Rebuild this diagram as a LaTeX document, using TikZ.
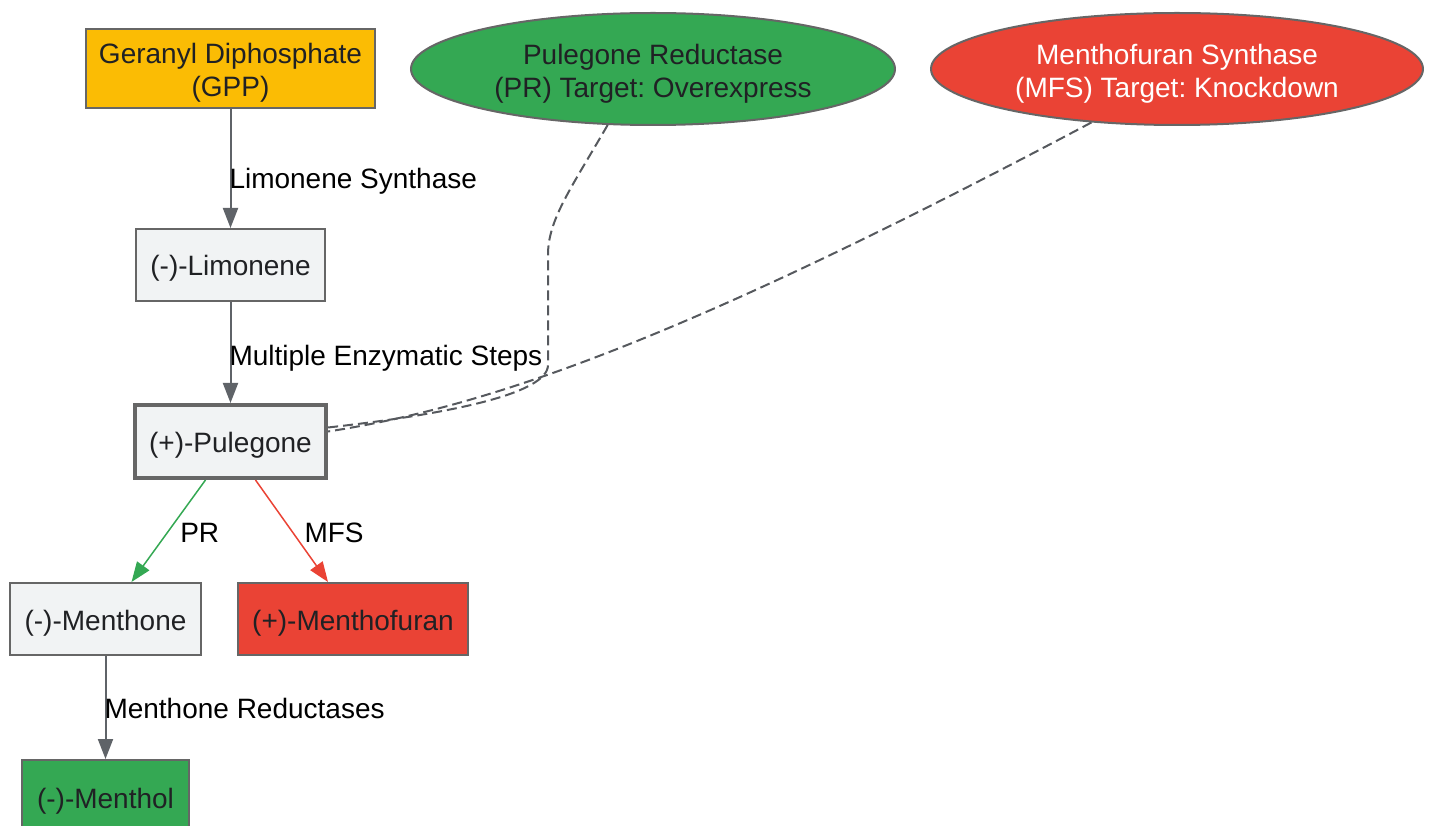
\documentclass[tikz,border=0pt]{standalone}
\usepackage{fontspec}
\setmainfont{Liberation Sans}
\usetikzlibrary{shapes.geometric, arrows.meta}
\frenchspacing
\definecolor{ink}{HTML}{202124}
\definecolor{edgegrey}{HTML}{5F6368}
\definecolor{rim}{HTML}{666666}
\definecolor{paper}{HTML}{F1F3F4}
\definecolor{gold}{HTML}{FBBC04}
\definecolor{leaf}{HTML}{34A853}
\definecolor{flame}{HTML}{EA4335}
\begin{document}
\begin{tikzpicture}[x=1pt, y=-1pt, font=\fontsize{28}{33}\selectfont,
		n/.style={rectangle, draw=rim, line width=2pt, fill=paper, text=ink, inner sep=0pt, minimum height=72pt, align=center, text height=28pt, text depth=6pt},
		t/.style={ellipse, draw=rim, line width=2pt, inner sep=0pt, minimum height=112pt, align=center, text height=63pt, text depth=6pt},
		arr/.style={-{Triangle[length=20pt, width=15pt]}, line width=2pt, draw=edgegrey},
		lbl/.style={anchor=west, inner sep=0pt, text=black},
		hint/.style={dashed, dash pattern=on 10pt off 5pt, line width=2pt, draw=edgegrey!90!black}]
			\useasboundingbox (0, 0) rectangle (1433, 826);

			\node[n, fill=gold, minimum width=289pt, minimum height=79pt, text height=63pt] (gpp) at (230.5, 68.5) {Geranyl Diphosphate\\(GPP)};
			\node[n, minimum width=189pt] (lim) at (230.5, 265) {(-)-Limonene};
			\node[n, line width=4pt, minimum width=191pt, minimum height=73pt] (pul) at (230.5, 441.5) {(+)-Pulegone};
			\node[n, minimum width=191pt] (mtn) at (105.5, 619) {(-)-Menthone};
			\node[n, fill=flame, minimum width=230pt] (mfu) at (353, 619) {(+)-Menthofuran};
			\node[n, fill=leaf, minimum width=167pt, minimum height=74pt] (mol) at (105.5, 797) {(-)-Menthol};

			\node[t, fill=leaf, text=ink, minimum width=484pt] (pr) at (653, 69) {Pulegone Reductase\\(PR) Target: Overexpress};
			\node[t, fill=flame, text=white, minimum width=492pt] (mfs) at (1177, 69) {Menthofuran Synthase\\(MFS) Target: Knockdown};

			\draw[arr] (gpp) -- node[lbl, pos=.58, xshift=-2pt, yshift=-3pt] {Limonene Synthase} (lim);
			\draw[arr] (lim) -- node[lbl, pos=.5, xshift=-2pt, yshift=-6pt] {Multiple Enzymatic Steps} (pul);
			\draw[arr, draw=leaf, line width=1.5pt] ([xshift=-25pt]pul.south) -- node[lbl, xshift=11pt, yshift=-2pt] {PR} ([xshift=26pt]mtn.north);
			\draw[arr, draw=flame, line width=1.5pt] ([xshift=25pt]pul.south) -- node[lbl, xshift=12pt, yshift=-2pt] {MFS} ([xshift=-25pt]mfu.north);
			\draw[arr] (mtn) -- node[lbl, pos=.5, xshift=-2pt, yshift=-1pt] {Menthone Reductases} (mol);

			\draw[hint] (pr.-129) .. controls (570, 190) and (548, 220) .. (548, 255) -- (548, 365) .. controls (548, 395) and (440, 415) .. ([yshift=14pt]pul.east);
			\draw[hint] (mfs.-148) .. controls (700, 330) and (500, 405) .. ([yshift=10pt]pul.east);
		\end{tikzpicture}
\end{document}
